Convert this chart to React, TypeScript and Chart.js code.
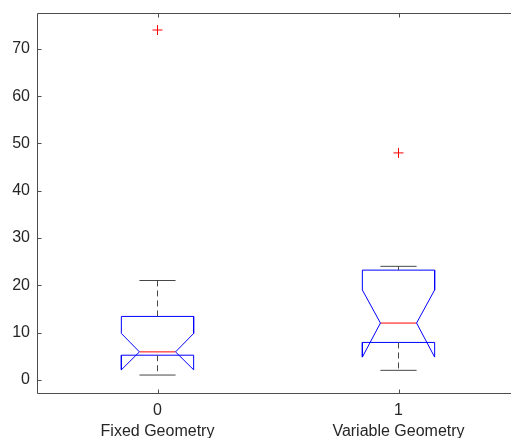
import { useEffect, useRef } from 'react';
import { Chart, registerables } from 'chart.js';

Chart.register(...registerables);

// ---- Data ----
const categories = ['Fixed Geometry', 'Variable Geometry'];
const tickNumbers = ['0', '1'];
const positions = [0, 1];
const lowerWhisker = [1, 2];
const q1 = [5.2, 7.9];
const median = [5.9, 12];
const q3 = [13.4, 23.2];
const upperWhisker = [21, 24];
const notchLow = [2.1, 4.8];
const notchHigh = [9.8, 19];
const outliers = [[74], [48]];
const yTicks = [0, 10, 20, 30, 40, 50, 60, 70];

const X_MIN = -0.5;
const X_MAX = 1.5;
const Y_MIN = -2.8;
const Y_MAX = 77.6;

const HALF = 0.15;
const AXIS_COLOR = '#4d4d4d';
const WHISKER_COLOR = '#474747';
const TEXT_COLOR = '#262626';
const FONT = { family: '"Liberation Sans", Arial, Helvetica, sans-serif', size: 16 };

function buildDatasets() {
  const ds: any[] = [];
  const line = (data: any[], color: string, dash: number[] = []) => ({
    type: 'scatter',
    data,
    showLine: true,
    borderColor: color,
    backgroundColor: color,
    borderWidth: 1,
    borderDash: dash,
    pointRadius: 0,
    fill: false,
    tension: 0,
  });
  positions.forEach((x, i) => {
    // whiskers
    ds.push(line([{ x, y: q3[i] }, { x, y: upperWhisker[i] }], WHISKER_COLOR, [6, 4]));
    ds.push(line([{ x, y: q1[i] }, { x, y: lowerWhisker[i] }], WHISKER_COLOR, [6, 4]));
    // caps
    ds.push(line([{ x: x - HALF / 2, y: upperWhisker[i] }, { x: x + HALF / 2, y: upperWhisker[i] }], WHISKER_COLOR));
    ds.push(line([{ x: x - HALF / 2, y: lowerWhisker[i] }, { x: x + HALF / 2, y: lowerWhisker[i] }], WHISKER_COLOR));
    // notched box
    ds.push(
      line(
        [
          { x: x + HALF, y: q3[i] },
          { x: x + HALF, y: notchHigh[i] },
          { x: x + HALF / 2, y: median[i] },
          { x: x + HALF, y: notchLow[i] },
          { x: x + HALF, y: q1[i] },
          { x: x - HALF, y: q1[i] },
          { x: x - HALF, y: notchLow[i] },
          { x: x - HALF / 2, y: median[i] },
          { x: x - HALF, y: notchHigh[i] },
          { x: x - HALF, y: q3[i] },
          { x: x + HALF, y: q3[i] },
        ],
        '#0000ff'
      )
    );
    // median
    ds.push(line([{ x: x - HALF / 2, y: median[i] }, { x: x + HALF / 2, y: median[i] }], '#ff0000'));
    // outliers
    ds.push({
      type: 'scatter',
      data: outliers[i].map((y) => ({ x, y })),
      showLine: false,
      pointStyle: 'cross',
      pointRadius: 5,
      borderColor: '#ff0000',
      backgroundColor: '#ff0000',
      pointBorderColor: '#ff0000',
      pointBackgroundColor: '#ff0000',
      borderWidth: 1,
      pointBorderWidth: 1,
    });
  });
  return ds;
}

const frameAndTicks = {
  id: 'frameAndTicks',
  afterDraw(chart: any) {
    const { ctx, chartArea } = chart;
    const xs = chart.scales.x;
    const ys = chart.scales.y;
    const L = Math.round(chartArea.left) + 0.5;
    const R = Math.round(chartArea.right) + 0.5;
    const T = Math.round(chartArea.top) + 0.5;
    const B = Math.round(chartArea.bottom) + 0.5;
    ctx.save();
    ctx.strokeStyle = AXIS_COLOR;
    ctx.lineWidth = 1;
    ctx.setLineDash([]);
    ctx.beginPath();
    ctx.moveTo(L, T);
    ctx.lineTo(R, T);
    ctx.lineTo(R, B);
    ctx.lineTo(L, B);
    ctx.closePath();
    ctx.stroke();
    const len = 4;
    ctx.beginPath();
    yTicks.forEach((v) => {
      const y = Math.round(ys.getPixelForValue(v)) + 0.5;
      ctx.moveTo(L, y);
      ctx.lineTo(L + len, y);
      ctx.moveTo(R, y);
      ctx.lineTo(R - len, y);
    });
    positions.forEach((v) => {
      const x = Math.round(xs.getPixelForValue(v)) + 0.5;
      ctx.moveTo(x, B);
      ctx.lineTo(x, B - len);
      ctx.moveTo(x, T);
      ctx.lineTo(x, T + len);
    });
    ctx.stroke();
    ctx.restore();
  },
};

export default function App() {
  const ref = useRef<HTMLCanvasElement>(null);
  useEffect(() => {
    if (!ref.current) return;
    const chart = new Chart(ref.current, {
      type: 'scatter',
      data: { datasets: buildDatasets() },
      options: {
        animation: false,
        responsive: false,
        maintainAspectRatio: false,
        events: [],
        layout: { padding: { left: 0, right: 11, top: 13, bottom: 0 } },
        plugins: { legend: { display: false }, tooltip: { enabled: false }, title: { display: false } },
        scales: {
          x: {
            type: 'linear',
            min: X_MIN,
            max: X_MAX,
            grid: { display: false, drawTicks: false },
            border: { display: false },
            afterBuildTicks: (s: any) => {
              s.ticks = positions.map((v) => ({ value: v }));
            },
            afterFit: (s: any) => {
              s.height = 45;
              s.paddingLeft = 0;
              s.paddingRight = 0;
              s.paddingTop = 0;
              s.paddingBottom = 0;
            },
            ticks: {
              autoSkip: false,
              maxRotation: 0,
              padding: 7,
              color: TEXT_COLOR,
              font: { ...FONT, lineHeight: 1.3 },
              callback: (v: any) => {
                const i = positions.indexOf(Number(v));
                return i >= 0 ? [tickNumbers[i], categories[i]] : '';
              },
            },
          },
          y: {
            type: 'linear',
            min: Y_MIN,
            max: Y_MAX,
            grid: { display: false, drawTicks: false },
            border: { display: false },
            afterBuildTicks: (s: any) => {
              s.ticks = yTicks.map((v) => ({ value: v }));
            },
            afterFit: (s: any) => {
              s.width = 37;
              s.paddingTop = 0;
              s.paddingBottom = 0;
              s.paddingLeft = 0;
              s.paddingRight = 0;
            },
            ticks: {
              padding: 7,
              color: TEXT_COLOR,
              font: FONT,
              callback: (v: any) => String(v),
            },
          },
        },
      },
      plugins: [frameAndTicks],
    } as any);
    return () => chart.destroy();
  }, []);
  return (
    <div style={{ position: 'fixed', left: 0, top: 0, width: 511, height: 438, overflow: 'hidden', background: '#fff' }}>
      <canvas ref={ref} width={530} height={438} style={{ display: 'block', width: 530, height: 438 }} />
    </div>
  );
}
